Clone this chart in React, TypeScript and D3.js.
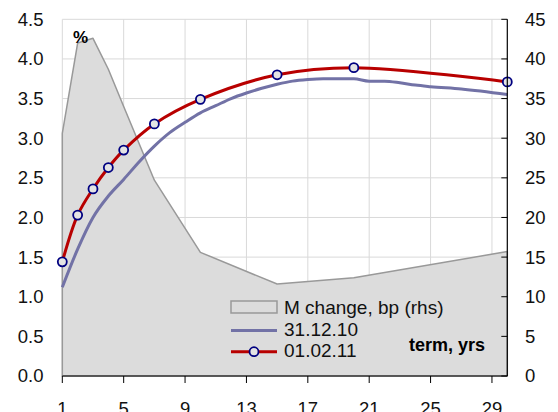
import React, { useEffect, useRef } from 'react';
import * as d3 from 'd3';

// yield curve terms, yrs
const curveTerms = [1, 2, 3, 4, 5, 7, 10, 15, 20, 30];
// 01.02.11, %
const curveNew = [1.44, 2.03, 2.36, 2.63, 2.85, 3.18, 3.49, 3.8, 3.89, 3.71];
// M change, bp (rhs)
const monthChange = [30.6, 42.0, 42.6, 38.7, 34.0, 24.7, 15.6, 11.6, 12.4, 15.7];

// 31.12.10, %
const oldTerms = [1, 2, 3, 4, 5, 6, 7, 8, 9, 10, 11, 12, 13, 14, 15, 16, 17, 18, 20, 21, 22, 23, 24, 25, 27, 30];
const curveOld = [1.12, 1.6, 2.0, 2.27, 2.48, 2.7, 2.9, 3.07, 3.2, 3.32, 3.41, 3.5, 3.57, 3.63, 3.68, 3.72, 3.74, 3.75, 3.75, 3.72, 3.72, 3.7, 3.67, 3.65, 3.62, 3.55];

const xTicks = [1, 5, 9, 13, 17, 21, 25, 29];
const leftTicks = [0, 0.5, 1, 1.5, 2, 2.5, 3, 3.5, 4, 4.5];
const rightTicks = [0, 5, 10, 15, 20, 25, 30, 35, 40, 45];

const legendLabels = ['M change, bp (rhs)', '31.12.10', '01.02.11'];

const W = 558;
const H = 412;
const FONT = '"Liberation Sans", Arial, sans-serif';

const App: React.FC = () => {
  const svgRef = useRef<SVGSVGElement>(null);

  useEffect(() => {
    document.body.style.margin = '0';
    if (!svgRef.current) {return;}
    const svg = d3.select(svgRef.current);
    svg.selectAll('*').remove();

    const left = 62.3, right = 507.3, top = 19.3, bottom = 376;

    const x = d3.scaleLinear().domain([1, 30]).range([left, right]);
    const yL = d3.scaleLinear().domain([0, 4.5]).range([bottom, top]);
    const yR = d3.scaleLinear().domain([0, 45]).range([bottom, top]);

    svg.append('rect').attr('width', W).attr('height', H).attr('fill', '#fff');

    // grid
    const grid = svg.append('g').attr('stroke', '#d9d9d9').attr('stroke-width', 1);
    grid.selectAll('.hg')
      .data(leftTicks.filter(d => d > 0))
      .enter()
      .append('line')
      .attr('x1', left).attr('x2', right)
      .attr('y1', d => yL(d)).attr('y2', d => yL(d));
    grid.selectAll('.vg')
      .data(xTicks)
      .enter()
      .append('line')
      .attr('x1', d => x(d)).attr('x2', d => x(d))
      .attr('y1', top).attr('y2', bottom);

    // area, rhs
    const area = d3.area<number>()
      .x((d, i) => x(curveTerms[i]))
      .y0(bottom)
      .y1(d => yR(d));
    svg.append('path')
      .datum(monthChange)
      .attr('d', area)
      .attr('fill', '#dcdcdc')
      .attr('stroke', '#999')
      .attr('stroke-width', 1.5)
      .attr('stroke-linejoin', 'round');

    // 31.12.10
    const lineOld = d3.line<number>()
      .x((d, i) => x(oldTerms[i]))
      .y(d => yL(d))
      .curve(d3.curveMonotoneX);
    svg.append('path')
      .datum(curveOld)
      .attr('d', lineOld)
      .attr('fill', 'none')
      .attr('stroke', '#7272a6')
      .attr('stroke-width', 3);

    // 01.02.11
    const lineNew = d3.line<number>()
      .x((d, i) => x(curveTerms[i]))
      .y(d => yL(d))
      .curve(d3.curveCatmullRom.alpha(0.5));
    svg.append('path')
      .datum(curveNew)
      .attr('d', lineNew)
      .attr('fill', 'none')
      .attr('stroke', '#b80000')
      .attr('stroke-width', 3);
    svg.selectAll('.mk')
      .data(curveNew)
      .enter()
      .append('circle')
      .attr('cx', (d, i) => x(curveTerms[i]))
      .attr('cy', d => yL(d))
      .attr('r', 4.5)
      .attr('fill', '#e4e4e4')
      .attr('stroke', '#000080')
      .attr('stroke-width', 1.8);

    // bottom axis
    const ax = svg.append('g').attr('font-family', FONT).attr('font-size', 18.5).attr('fill', '#111');
    ax.append('line').attr('x1', left).attr('x2', right).attr('y1', bottom).attr('y2', bottom)
      .attr('stroke', '#000').attr('stroke-width', 1.2);
    ax.selectAll('.xt')
      .data(xTicks)
      .enter()
      .append('line')
      .attr('x1', d => x(d)).attr('x2', d => x(d))
      .attr('y1', bottom).attr('y2', bottom + 7)
      .attr('stroke', '#000');
    ax.selectAll('.xl')
      .data(xTicks)
      .enter()
      .append('text')
      .attr('x', d => x(d))
      .attr('y', 415)
      .attr('text-anchor', 'middle')
      .text(d => d);

    // left labels
    ax.selectAll('.yl')
      .data(leftTicks)
      .enter()
      .append('text')
      .attr('x', 43.5)
      .attr('y', d => yL(d))
      .attr('dy', '0.35em')
      .attr('text-anchor', 'end')
      .text(d => d3.format('.1f')(d));

    // right axis
    ax.append('line').attr('x1', right).attr('x2', right).attr('y1', top).attr('y2', bottom)
      .attr('stroke', '#000').attr('stroke-width', 1.2);
    ax.selectAll('.rt')
      .data(rightTicks)
      .enter()
      .append('line')
      .attr('x1', right - 6).attr('x2', right)
      .attr('y1', d => yR(d)).attr('y2', d => yR(d))
      .attr('stroke', '#000');
    ax.selectAll('.rl')
      .data(rightTicks)
      .enter()
      .append('text')
      .attr('x', 525)
      .attr('y', d => yR(d))
      .attr('dy', '0.35em')
      .text(d => d);

    svg.append('text')
      .attr('x', 73).attr('y', 43)
      .attr('font-family', FONT).attr('font-size', 17).attr('font-weight', 'bold')
      .text('%');

    svg.append('text')
      .attr('x', 409).attr('y', 351)
      .attr('font-family', FONT).attr('font-size', 18).attr('font-weight', 'bold')
      .text('term, yrs');

    // legend
    const lg = svg.append('g').attr('font-family', FONT).attr('font-size', 19).attr('fill', '#111');
    lg.append('rect')
      .attr('x', 231).attr('y', 301).attr('width', 46).attr('height', 12)
      .attr('fill', '#dcdcdc').attr('stroke', '#999').attr('stroke-width', 1.5);
    lg.append('line').attr('x1', 231).attr('x2', 277).attr('y1', 330.5).attr('y2', 330.5)
      .attr('stroke', '#7272a6').attr('stroke-width', 3);
    lg.append('line').attr('x1', 231).attr('x2', 277).attr('y1', 351.7).attr('y2', 351.7)
      .attr('stroke', '#b80000').attr('stroke-width', 3);
    lg.append('circle').attr('cx', 254).attr('cy', 351.7).attr('r', 4.5)
      .attr('fill', '#e4e4e4').attr('stroke', '#000080').attr('stroke-width', 1.8);
    lg.selectAll('.lt')
      .data(legendLabels)
      .enter()
      .append('text')
      .attr('x', 284)
      .attr('y', (d, i) => 314 + i * 21.7)
      .text(d => d);
  }, []);

  return (
    <svg ref={svgRef} width={W} height={H} style={{ display: 'block' }} />
  );
};

export default App;
